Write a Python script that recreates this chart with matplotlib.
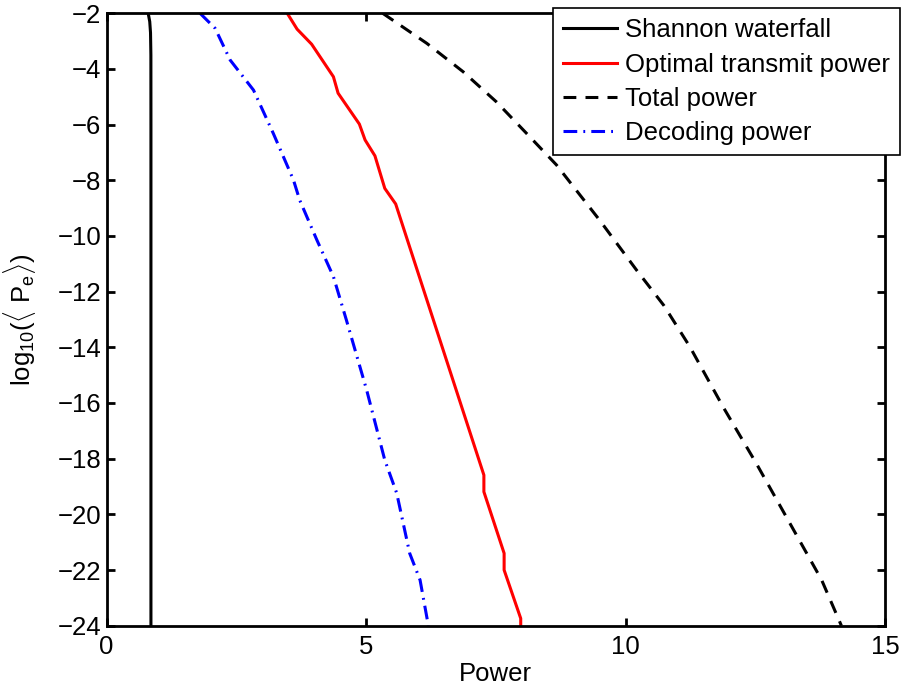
import numpy as np
import matplotlib
matplotlib.use('Agg')
import matplotlib.pyplot as plt

plt.rcParams['font.family'] = ['Liberation Sans', 'DejaVu Sans']
plt.rcParams['mathtext.fontset'] = 'custom'
plt.rcParams['mathtext.rm'] = 'Liberation Sans'
plt.rcParams['mathtext.it'] = 'Liberation Sans'

# curve data (power, log10 Pe)
shannon_x = [0.80, 0.83, 0.845, 0.852, 0.853, 0.853]
shannon_y = [-2.0, -2.3, -2.7, -3.5, -6.0, -24.0]

transmit_x = [3.48, 3.67, 3.95, 4.37, 4.46, 4.87, 4.98, 5.17, 5.36, 5.57,
              6.36, 7.27, 7.27, 7.66, 7.66, 7.98, 7.98]
transmit_y = [-2.0, -2.57, -3.11, -4.28, -4.87, -5.98, -6.55, -7.12, -8.29, -8.85,
              -13.38, -18.59, -19.19, -21.40, -22.0, -23.74, -24.0]

total_x = [5.32, 6.17, 6.87, 7.51, 8.09, 8.67, 9.50, 10.21, 10.74, 11.24, 11.88,
           12.52, 13.17, 13.78, 14.16]
total_y = [-2.0, -3.08, -4.10, -5.18, -6.31, -7.45, -9.43, -11.22, -12.5, -13.98, -16.14,
           -18.17, -20.33, -22.36, -24.0]

decoding_x = [1.80, 2.09, 2.38, 2.83, 3.21, 3.60, 3.72, 4.05, 4.37, 4.62,
              5.01, 5.36, 5.59, 5.84, 6.04, 6.20]
decoding_y = [-2.0, -2.54, -3.68, -4.76, -6.31, -7.99, -8.71, -10.14, -11.46, -13.02,
              -15.53, -18.05, -19.24, -21.40, -22.36, -24.0]

fs = 18.5

fig = plt.figure(figsize=(9.01, 6.85), dpi=100)
ax = fig.add_axes([0.1184, 0.0866, 0.8638, 0.894])

lw = 2.2
ax.plot(shannon_x, shannon_y, color='black', lw=lw, label='Shannon waterfall')
ax.plot(transmit_x, transmit_y, color='red', lw=lw, label='Optimal transmit power')
ax.plot(total_x, total_y, color='black', lw=lw, ls=(0, (4.2, 3)), label='Total power')
ax.plot(decoding_x, decoding_y, color='blue', lw=lw, ls=(0, (4.5, 2, 0.6, 2)),
        label='Decoding power')

ax.set_xlim(0, 15)
ax.set_ylim(-24, -2)
ax.set_xticks([0, 5, 10, 15])
ax.set_yticks(np.arange(-24, -1, 2))
ax.set_yticklabels(['\u2212%d' % abs(v) for v in range(-24, -1, 2)])
ax.tick_params(direction='in', top=True, right=True, length=6, width=2,
               labelsize=fs)
ax.tick_params(axis='x', pad=7)
ax.tick_params(axis='y', pad=4)
for s in ax.spines.values():
    s.set_linewidth(2)

ax.set_xlabel('Power', fontsize=fs, labelpad=2)
ax.set_ylabel(r'$\mathrm{log}_{10}(\langle\ \mathrm{P}_\mathrm{e}\rangle)$', fontsize=fs,
              labelpad=14)

leg = ax.legend(loc='upper right', bbox_to_anchor=(900 / 901, 1 - 8 / 685),
                bbox_transform=fig.transFigure, fontsize=fs, fancybox=False,
                framealpha=1, edgecolor='black', handlelength=2.1,
                handletextpad=0.3, labelspacing=0.4, borderpad=0.4,
                borderaxespad=0)
leg.get_frame().set_linewidth(1.2)

fig.savefig('out.png', dpi=100)
